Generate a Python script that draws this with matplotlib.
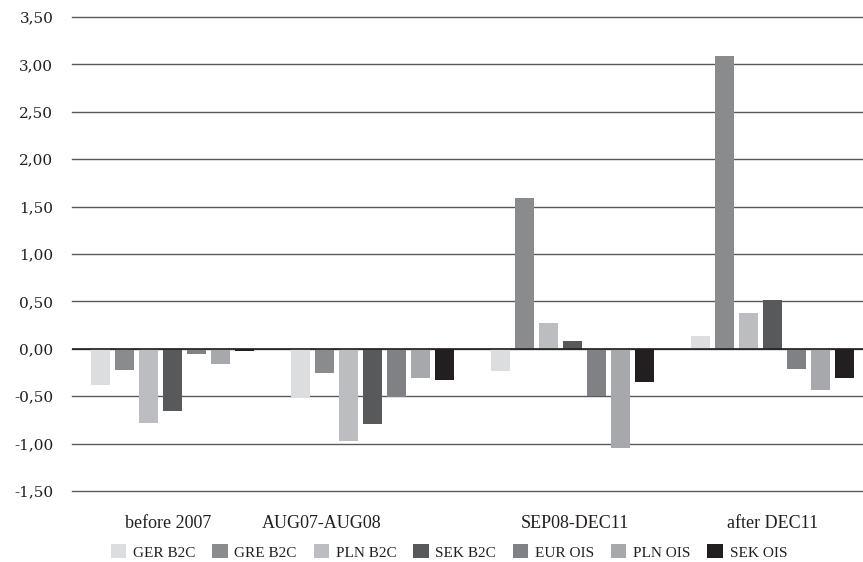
import numpy as np
import matplotlib.pyplot as plt
from matplotlib.ticker import FuncFormatter

# data
periods = ["before 2007", "AUG07-AUG08", "SEP08-DEC11", "after DEC11"]
series = ["GER B2C", "GRE B2C", "PLN B2C", "SEK B2C", "EUR OIS", "PLN OIS", "SEK OIS"]
ger_b2c = [-0.38, -0.52, -0.23, 0.14]
gre_b2c = [-0.22, -0.25, 1.59, 3.09]
pln_b2c = [-0.78, -0.97, 0.27, 0.38]
sek_b2c = [-0.66, -0.79, 0.08, 0.52]
eur_ois = [-0.05, -0.51, -0.50, -0.21]
pln_ois = [-0.16, -0.31, -1.05, -0.43]
sek_ois = [-0.02, -0.33, -0.35, -0.31]
values = [ger_b2c, gre_b2c, pln_b2c, sek_b2c, eur_ois, pln_ois, sek_ois]

colors = ["#dcdddf", "#8a8b8d", "#bcbdc0", "#58595b", "#808184", "#a7a8ab", "#231f20"]
label_shift = [-0.02, -0.255, 0.01, 0.0]  # the AUG07 label sits off-centre in the original

plt.rcParams["font.family"] = ["Liberation Serif", "DejaVu Serif"]

fig = plt.figure(figsize=(8.63, 5.62), dpi=100)
ax = fig.add_axes([72 / 863, 1 - 491 / 562, 1 - 72 / 863, (491 - 17) / 562])

x = np.arange(len(periods))
pitch = 0.12
width = 0.095
for i, (name, vals) in enumerate(zip(series, values)):
    ax.bar(x + (i - 3) * pitch, vals, width, color=colors[i], label=name, zorder=2)

ax.set_ylim(-1.5, 3.5)
ax.set_xlim(-0.5, 3.45)
ax.set_yticks(np.arange(-1.5, 3.51, 0.5))
ax.yaxis.set_major_formatter(FuncFormatter(lambda v, p: f"{v:.2f}".replace(".", ",")))
ax.grid(axis="y", color="#58595b", lw=1, zorder=0)
for gl in ax.get_ygridlines():
    gl.set_clip_on(False)
ax.axhline(0, color="#231f20", lw=1.2, zorder=3)
for s in ax.spines.values():
    s.set_visible(False)
ax.tick_params(axis="y", length=0, pad=13.5, colors="#231f20")
for t in ax.get_yticklabels():
    t.set_fontfamily("DejaVu Serif")
    t.set_fontsize(11)
ax.set_xticks(x + np.array(label_shift))
ax.set_xticklabels(periods, fontsize=13, color="#231f20")
ax.tick_params(axis="x", length=0, pad=17)

fig.legend(loc="center", bbox_to_anchor=(449 / 863, 1 - 552 / 562), ncol=7, frameon=False,
           fontsize=11, handlelength=1.0, handleheight=1.0, handletextpad=0.45,
           columnspacing=1.1, borderpad=0, labelcolor="#231f20")

fig.savefig("out.png", dpi=100)
